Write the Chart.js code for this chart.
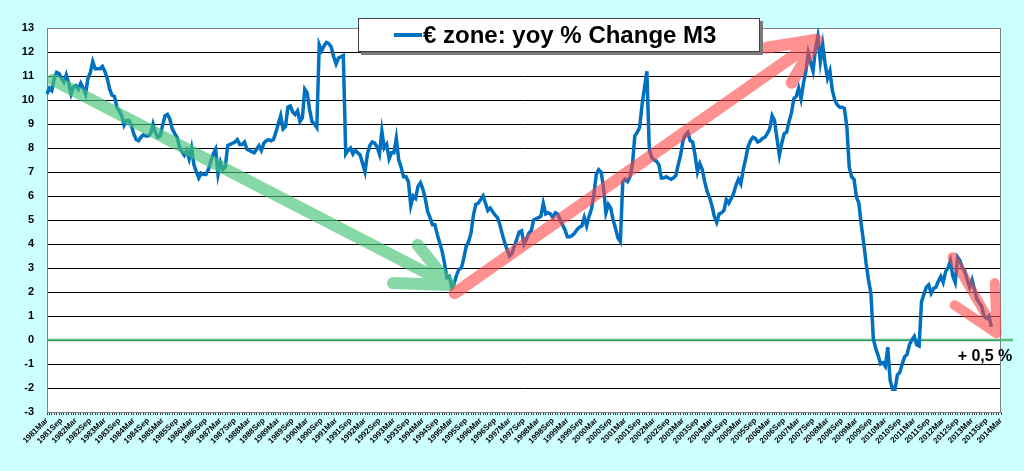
<!DOCTYPE html>
<html>
<head>
<meta charset="utf-8">
<script src="https://cdn.jsdelivr.net/npm/chart.js@4.4.1/dist/chart.umd.min.js"></script>
<style>
  html, body { margin: 0; padding: 0; background: #CCFFFF; }
  #wrap { width: 1024px; height: 471px; }
</style>
</head>
<body>
<div id="wrap"><canvas id="c" width="1024" height="471"></canvas></div>
<script>
// ---- DATA ----
const monthNames = ['Jan','Feb','Mar','Apr','May','Jun','Jul','Aug','Sep','Oct','Nov','Dec'];
const startYear = 1981, startMonth = 2; // 1981Mar
const monthCount = 397;                 // 1981Mar .. 2014Mar
const categories = [];
for (let k = 0; k < monthCount; k++) {
  const m = startMonth + k;
  categories.push((startYear + Math.floor(m / 12)) + monthNames[m % 12]);
}
const labelEvery = 6;

const seriesName = '€ zone: yoy % Change M3';
const m3Growth = [
  10.25, 10.5, 10.4, 10.9, 11.15, 11.1, 10.9, 10.75, 11.05, 10.7,
  10.25, 10.55, 10.6, 10.45, 10.7, 10.5, 10.25, 10.9, 11.15, 11.6,
  11.3, 11.3, 11.3, 11.4, 11.2, 10.9, 10.45, 10.2, 10.15, 9.7,
  9.55, 9.35, 8.95, 9.15, 9.15, 8.95, 8.6, 8.35, 8.3, 8.45,
  8.55, 8.5, 8.5, 8.6, 9.0, 8.65, 8.45, 8.5, 8.95, 9.35,
  9.4, 9.2, 8.8, 8.6, 8.45, 8.05, 7.85, 7.7, 7.9, 7.55,
  8.0, 7.3, 7.0, 6.75, 6.95, 6.9, 6.9, 7.1, 7.45, 7.75,
  7.95, 6.9, 7.4, 7.1, 7.2, 8.1, 8.15, 8.2, 8.25, 8.35,
  8.15, 8.15, 8.25, 7.95, 7.9, 7.85, 7.8, 7.95, 8.1, 7.9,
  8.2, 8.3, 8.35, 8.3, 8.35, 8.65, 9.0, 9.35, 8.8, 8.9,
  9.7, 9.75, 9.5, 9.4, 9.55, 9.1, 9.25, 10.45, 10.3, 9.6,
  9.1, 9.0, 8.85, 12.3, 12.05, 12.25, 12.4, 12.35, 12.2, 11.8,
  11.5, 11.75, 11.8, 11.85, 7.75, 7.9, 8.0, 7.75, 7.9, 7.8,
  7.7, 7.35, 7.0, 7.75, 8.1, 8.25, 8.2, 8.05, 7.75, 8.7,
  8.0, 8.15, 7.55, 7.8, 7.8, 8.4, 7.5, 7.2, 6.8, 6.8,
  6.6, 5.6, 6.0, 5.9, 6.4, 6.55, 6.3, 5.9, 5.35, 5.1,
  4.8, 4.8, 4.4, 4.05, 3.7, 3.2, 2.6, 2.65, 2.2, 2.35,
  2.7, 2.95, 3.0, 3.4, 3.9, 4.1, 4.45, 5.2, 5.65, 5.7,
  5.85, 6.0, 5.7, 5.4, 5.5, 5.35, 5.2, 5.1, 4.8, 4.4,
  4.05, 3.75, 3.5, 3.6, 3.9, 4.2, 4.5, 4.55, 4.0, 4.2,
  4.45, 4.55, 5.0, 5.05, 5.1, 5.15, 5.7, 5.25, 5.3, 5.25,
  5.1, 5.3, 5.25, 5.0, 4.8, 4.6, 4.3, 4.3, 4.35, 4.45,
  4.6, 4.7, 4.75, 5.1, 4.75, 5.15, 5.45, 6.05, 6.9, 7.1,
  7.0, 6.35, 5.3, 5.65, 5.5, 5.0, 4.65, 4.25, 4.1, 6.6,
  6.7, 6.6, 6.8, 7.3, 8.5, 8.65, 8.85, 9.8, 10.5, 11.2,
  7.95, 7.6, 7.5, 7.45, 7.3, 6.75, 6.75, 6.8, 6.75, 6.7,
  6.75, 6.85, 7.3, 7.7, 8.3, 8.55, 8.65, 8.3, 8.25, 7.7,
  7.0, 7.35, 7.1, 6.6, 6.2, 5.95, 5.6, 5.15, 4.9, 5.25,
  5.3, 5.4, 5.85, 5.7, 5.9, 6.1, 6.45, 6.7, 6.5, 7.1,
  7.55, 8.05, 8.3, 8.45, 8.4, 8.25, 8.3, 8.4, 8.45, 8.6,
  8.8, 9.35, 9.15, 8.4, 7.7, 8.2, 8.6, 8.65, 9.1, 9.45,
  10.05, 10.15, 10.5, 10.05, 10.7, 11.2, 11.95, 11.55, 11.2, 12.15,
  12.65, 11.6, 12.3, 11.5, 10.9, 11.2, 10.4, 10.0, 9.8, 9.7,
  9.7, 9.65, 8.9, 7.2, 6.8, 6.7, 5.95, 5.7, 4.8, 4.05,
  3.2, 2.5, 1.95, 0.05, -0.35, -0.65, -1.0, -0.95, -1.1, -0.3,
  -1.7, -2.05, -2.05, -1.45, -1.35, -1.0, -0.7, -0.6, -0.2, 0.0,
  0.15, -0.2, -0.25, 1.6, 1.9, 2.2, 2.3, 1.95, 2.15, 2.2,
  2.45, 2.65, 2.4, 2.85, 3.0, 3.3, 2.65, 2.4, 3.45, 3.3,
  3.0, 2.85, 2.5, 2.2, 2.5, 2.1, 1.7, 1.55, 1.4, 1.0,
  0.9, 1.0, 0.55
];

const yMin = -3, yMax = 13, yStep = 1;

// annotations in data units: [categoryIndex, value]
const greenArrow = { from: [2.5, 10.84], to: [167.2, 2.29], heads: [[143.6, 2.37], [153.9, 3.96]] };
const redArrow   = { from: [169.3, 1.95], to: [319.5, 12.51], heads: [[298.8, 12.18], [309.1, 10.72]] };
const redArrow2  = { from: [375.9, 3.45], to: [394.2, 0.28], heads: [[376.8, 1.45], [393.4, 2.37]] };
const noteText = '+ 0,5 %';
const notePos = [378.0, -0.88];

// ---- PLUGINS ----
const FONT = "'Liberation Sans', Arial, sans-serif";

const bgPlugin = {
  id: 'bg',
  beforeDraw(chart) {
    const { ctx, chartArea: a } = chart;
    ctx.save();
    ctx.fillStyle = '#CCFFFF';
    ctx.fillRect(0, 0, chart.width, chart.height);
    ctx.fillStyle = '#FFFFFF';
    ctx.fillRect(a.left, a.top, a.right - a.left, a.bottom - a.top);
    ctx.restore();
  },
  beforeDatasetsDraw(chart) {
    const { ctx, chartArea: a, scales } = chart;
    ctx.save();
    ctx.strokeStyle = '#808080';
    ctx.lineWidth = 1;
    ctx.strokeRect(Math.round(a.left) + 0.5, Math.round(a.top) + 0.5,
                   Math.round(a.right - a.left) - 1, Math.round(a.bottom - a.top));
    // zero line
    const y0 = scales.y.getPixelForValue(0);
    ctx.strokeStyle = 'rgba(70,180,110,0.85)';
    ctx.lineWidth = 2.5;
    ctx.beginPath();
    ctx.moveTo(a.left, y0);
    ctx.lineTo(a.right + 12, y0);
    ctx.stroke();
    ctx.restore();
  }
};

function drawArrow(chart, def, color, width) {
  const { ctx, scales } = chart;
  const P = p => [scales.x.getPixelForValue(p[0]), scales.y.getPixelForValue(p[1])];
  const f = P(def.from), t = P(def.to);
  ctx.save();
  ctx.strokeStyle = color;
  ctx.lineWidth = width;
  ctx.lineCap = 'round';
  ctx.lineJoin = 'round';
  ctx.beginPath();
  ctx.moveTo(f[0], f[1]);
  ctx.lineTo(t[0], t[1]);
  const h1 = P(def.heads[0]), h2 = P(def.heads[1]);
  ctx.moveTo(h1[0], h1[1]);
  ctx.lineTo(t[0], t[1]);
  ctx.lineTo(h2[0], h2[1]);
  ctx.stroke();
  ctx.restore();
}

const annotPlugin = {
  id: 'annot',
  afterDatasetsDraw(chart) {
    const { ctx, scales } = chart;
    drawArrow(chart, greenArrow, 'rgba(70,195,120,0.65)', 12);
    drawArrow(chart, redArrow, 'rgba(255,70,70,0.6)', 12);
    drawArrow(chart, redArrow2, 'rgba(255,70,70,0.6)', 10);
    // note
    ctx.save();
    ctx.fillStyle = '#000';
    ctx.font = 'bold 16px ' + FONT;
    ctx.textAlign = 'left';
    ctx.textBaseline = 'alphabetic';
    ctx.fillText(noteText, scales.x.getPixelForValue(notePos[0]), scales.y.getPixelForValue(notePos[1]));
    ctx.restore();
    // legend box
    const bx = 358, by = 18, bw = 402, bh = 34;
    ctx.save();
    ctx.fillStyle = '#7a7a7a';
    ctx.fillRect(bx + 3, by + 3, bw, bh);
    ctx.fillStyle = '#FFFFFF';
    ctx.fillRect(bx, by, bw, bh);
    ctx.strokeStyle = '#404040';
    ctx.lineWidth = 1;
    ctx.strokeRect(bx + 0.5, by + 0.5, bw - 1, bh - 1);
    ctx.strokeStyle = '#0070C0';
    ctx.lineWidth = 4;
    ctx.beginPath();
    ctx.moveTo(394, by + 17);
    ctx.lineTo(422, by + 17);
    ctx.stroke();
    ctx.fillStyle = '#000';
    ctx.font = 'bold 24px ' + FONT;
    ctx.textAlign = 'left';
    ctx.textBaseline = 'middle';
    ctx.fillText(seriesName, 423, by + 18);
    ctx.restore();
  }
};

// ---- CHART ----
new Chart(document.getElementById('c'), {
  type: 'line',
  data: {
    labels: categories,
    datasets: [{
      label: seriesName,
      data: m3Growth,
      borderColor: '#0070C0',
      borderWidth: 3.5,
      pointRadius: 0,
      tension: 0,
      fill: false
    }]
  },
  options: {
    responsive: false,
    animation: false,
    devicePixelRatio: 1,
    layout: { padding: { left: 0, top: 28, right: 23, bottom: 0 } },
    plugins: { legend: { display: false }, tooltip: { enabled: false } },
    scales: {
      x: {
        type: 'category',
        offset: false,
        grid: { display: true, drawOnChartArea: false, drawTicks: true, tickLength: 3, color: '#404040', lineWidth: 1 },
        border: { display: true, color: '#808080' },
        ticks: {
          autoSkip: false,
          minRotation: 45,
          maxRotation: 45,
          padding: 1,
          color: '#000',
          font: { family: FONT, size: 8, weight: 'bold' },
          callback: (v, i) => (i % labelEvery === 0 ? categories[i] : '')
        },
        afterFit: s => { s.height = 59; }
      },
      y: {
        min: yMin,
        max: yMax,
        ticks: {
          stepSize: yStep,
          padding: 13,
          color: '#000',
          font: { family: FONT, size: 11, weight: 'bold' }
        },
        grid: {
          drawTicks: false,
          color: c => (c.tick && (c.tick.value === yMin || c.tick.value === yMax)) ? 'rgba(0,0,0,0)' : '#000',
          lineWidth: 1
        },
        border: { display: true, color: '#808080' },
        afterFit: s => { s.width = 47; }
      }
    }
  },
  plugins: [bgPlugin, annotPlugin]
});
</script>
</body>
</html>
